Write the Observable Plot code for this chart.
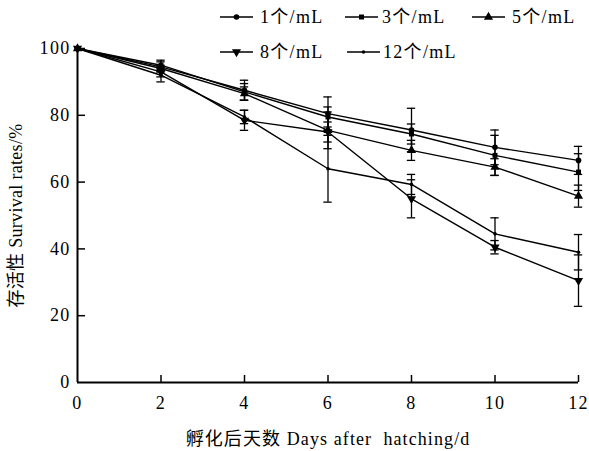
<!DOCTYPE html>
<html>
<head>
<meta charset="utf-8">
<script src="https://cdn.jsdelivr.net/npm/d3@7"></script>
<script src="https://cdn.jsdelivr.net/npm/@observablehq/plot@0.6"></script>
<style>
  html, body { margin: 0; padding: 0; background: #fff; }
  svg { display: block; }
</style>
</head>
<body>
<div id="chart"></div>
<script>
// ---- data ----
const days = [0, 2, 4, 6, 8, 10, 12];
const seriesNames = ["1个/mL", "3个/mL", "5个/mL", "8个/mL", "12个/mL"];
const s1 = [100, 94.5, 87.5, 80.5, 75.6, 70.4, 66.5];
const s3 = [100, 95, 87, 79.5, 74.4, 68, 63];
const s5 = [100, 94, 86.5, 75.5, 69.5, 64.5, 55.8];
const s8 = [100, 93, 78.5, 75, 55, 40.5, 30.5];
const s12 = [100, 92, 79.5, 64, 59.3, 44.5, 39];
const e1 = [0, 1.5, 3, 5, 6.5, 5.2, 4.2];
const e3 = [0, 1.5, 2.5, 3, 3, 6, 5.5];
const e5 = [0, 1, 2, 5.5, 3, 2.5, 3.3];
const e8 = [0, 1.5, 3, 3, 5.7, 2, 7.7];
const e12 = [0, 2, 2, 10, 3, 4.8, 5.3];
const xTicks = [0, 2, 4, 6, 8, 10, 12];
const yTicks = [0, 20, 40, 60, 80, 100];

const values = [s1, s3, s5, s8, s12];
const errors = [e1, e3, e5, e8, e12];
const symbols = ["circle", "square", "triangle", "triangle", "circle"];
const rotations = [0, 0, 0, 180, 0];
const radii = [2.8, 2.8, 3.4, 3.4, 1.8];

const rows = [];
seriesNames.forEach((name, i) => {
  days.forEach((d, j) => {
    rows.push({series: name, idx: i, day: d, v: values[i][j], e: errors[i][j]});
  });
});
const errRows = rows.filter(r => r.e > 0);

const W = 589, H = 451;
const font = "'Liberation Serif', 'Times New Roman', 'Noto Sans CJK SC', serif";
const capHalf = 0.1;
const FS = 18;
const LS = 1.3;

const marks = [
  // error bars
  Plot.ruleX(errRows, {x: "day", y1: d => d.v - d.e, y2: d => d.v + d.e, stroke: "#000", strokeWidth: 1.3}),
  Plot.ruleY(errRows, {y: d => d.v + d.e, x1: d => d.day - capHalf, x2: d => d.day + capHalf, stroke: "#000", strokeWidth: 1.3}),
  Plot.ruleY(errRows, {y: d => d.v - d.e, x1: d => d.day - capHalf, x2: d => d.day + capHalf, stroke: "#000", strokeWidth: 1.3}),
  // lines
  Plot.line(rows, {x: "day", y: "v", z: "series", stroke: "#000", strokeWidth: 1.4}),
];
seriesNames.forEach((name, i) => {
  marks.push(Plot.dot(rows.filter(r => r.idx === i), {
    x: "day", y: "v", symbol: () => symbols[i], r: radii[i], rotate: rotations[i],
    fill: "#000", stroke: "none"
  }));
});
// axes
marks.push(
  Plot.ruleX([0], {stroke: "#000", strokeWidth: 2}),
  Plot.ruleY([0], {stroke: "#000", strokeWidth: 2}),
  Plot.tickX(xTicks.filter(t => t > 0), {x: d => d, stroke: "#000", strokeWidth: 1.5, insetTop: (H - 48 - 69) - 7}),
  Plot.tickY(yTicks.filter(t => t > 0), {y: d => d, stroke: "#000", strokeWidth: 1.5, insetRight: (W - 77 - 11) - 8}),
  Plot.axisX(xTicks, {tickSize: 0, tickPadding: 14, fontSize: FS, label: "孵化后天数 Days after  hatching/d", labelAnchor: "center", labelArrow: "none", labelOffset: 62}),
  Plot.axisY(yTicks, {tickSize: 0, tickPadding: 7, fontSize: FS, label: "存活性 Survival rates/%", labelAnchor: "center", labelArrow: "none", labelOffset: 68})
);

const chart = Plot.plot({
  width: W,
  height: H,
  marginLeft: 77,
  marginRight: 11,
  marginTop: 48,
  marginBottom: 69,
  style: {fontFamily: font, fontSize: FS + "px", color: "#000", background: "#fff"},
  x: {domain: [0, 12]},
  y: {domain: [0, 100]},
  marks
});
document.getElementById("chart").appendChild(chart);

const svg = d3.select(chart);
svg.selectAll("text").attr("font-size", FS).attr("fill", "#000").attr("letter-spacing", LS).style("white-space", "pre");
svg.selectAll("text").filter(function() { return this.textContent.includes("Survival"); }).attr("letter-spacing", 0.3);
svg.selectAll("text").filter(function() { return this.textContent.includes("hatching"); }).attr("letter-spacing", 1.1);

// legend
const leg = svg.append("g").attr("font-family", font).attr("font-size", FS).attr("fill", "#000").attr("text-anchor", "start");
const legPos = [
  {x1: 220, x2: 253, y: 17, tx: 260},
  {x1: 345, x2: 378, y: 17, tx: 382},
  {x1: 472, x2: 505, y: 17, tx: 512},
  {x1: 220, x2: 253, y: 52, tx: 260},
  {x1: 347, x2: 380, y: 52, tx: 383}
];
const d3sym = {circle: d3.symbolCircle, square: d3.symbolSquare, triangle: d3.symbolTriangle};
seriesNames.forEach((name, i) => {
  const p = legPos[i];
  leg.append("line").attr("x1", p.x1).attr("x2", p.x2).attr("y1", p.y).attr("y2", p.y)
    .attr("stroke", "#000").attr("stroke-width", 1.4);
  const r = radii[i];
  leg.append("path")
    .attr("d", d3.symbol(d3sym[symbols[i]], Math.PI * r * r)())
    .attr("transform", `translate(${(p.x1 + p.x2) / 2},${p.y}) rotate(${rotations[i]})`)
    .attr("fill", "#000");
  leg.append("text").attr("x", p.tx).attr("y", p.y).attr("dy", "0.35em").attr("text-anchor", "start")
    .attr("letter-spacing", LS).text(name);
});
</script>
</body>
</html>
